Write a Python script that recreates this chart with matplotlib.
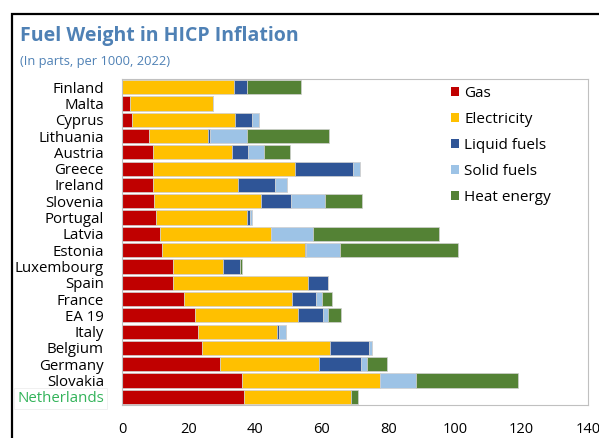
import matplotlib
matplotlib.use('Agg')
import matplotlib.pyplot as plt
from matplotlib.patches import Patch, Rectangle
import numpy as np

plt.rcParams['font.family'] = ['Open Sans', 'DejaVu Sans']

# データ (parts per 1000, 2022)
countries = ['Finland', 'Malta', 'Cyprus', 'Lithuania', 'Austria', 'Greece', 'Ireland',
             'Slovenia', 'Portugal', 'Latvia', 'Estonia', 'Luxembourg', 'Spain', 'France',
             'EA 19', 'Italy', 'Belgium', 'Germany', 'Slovakia', 'Netherlands']
gas = [0, 2.3, 3.0, 8.2, 9.4, 9.4, 9.4, 9.6, 10.1, 11.4, 12.1, 15.2, 15.3, 18.6,
       21.9, 22.7, 23.9, 29.3, 36.0, 36.8]
electricity = [33.7, 25.1, 30.8, 17.7, 23.5, 42.6, 25.3, 32.2, 27.4, 33.4, 42.8, 15.0,
               40.5, 32.4, 31.1, 23.9, 38.6, 29.9, 41.5, 32.0]
liquid = [3.8, 0, 5.3, 0.6, 5.0, 17.5, 11.2, 9.1, 1.1, 0, 0.3, 5.2, 6.1, 7.4, 7.3,
          0.7, 11.8, 12.6, 0, 0]
solid = [0, 0, 2.0, 11.2, 4.7, 2.0, 3.7, 10.0, 0.5, 12.6, 10.3, 0, 0, 1.7, 1.6, 2.1,
         0.9, 1.7, 10.7, 0]
heat = [16.4, 0, 0, 24.5, 8.0, 0, 0, 11.2, 0, 37.7, 35.3, 0.7, 0, 3.0, 3.8, 0, 0,
        6.0, 30.7, 2.1]

series = [('Gas', gas, '#c00000'),
          ('Electricity', electricity, '#ffc000'),
          ('Liquid fuels', liquid, '#2f5597'),
          ('Solid fuels', solid, '#9dc3e6'),
          ('Heat energy', heat, '#548235')]

fig = plt.figure(figsize=(5.99, 4.38), dpi=100)
ax = fig.add_axes([122 / 599, 1 - 405 / 438, 466 / 599, 326 / 438])

y = np.arange(len(countries))
left = np.zeros(len(countries))
for name, vals, col in series:
    vals = np.array(vals)
    ax.barh(y, vals, left=left, height=0.87, color=col, edgecolor='#d0d0d0',
            linewidth=0.5, label=name)
    left += vals

ax.set_xlim(0, 140)
ax.set_ylim(19.5, -0.5)
ax.set_xticks(range(0, 141, 20))
ax.set_yticks(y)
ax.set_yticklabels(countries, fontsize=10.8)
ax.tick_params(axis='both', length=0)
ax.tick_params(axis='x', labelsize=10.5, pad=12)
ax.tick_params(axis='y', pad=13)
for s in ax.spines.values():
    s.set_color('#c0c0c0')
    s.set_linewidth(0.8)

# Netherlands は緑
lab = ax.get_yticklabels()[-1]
lab.set_color('#33b35a')
lab.set_bbox(dict(facecolor='white', edgecolor='#eeeeee', linewidth=0.6, pad=2))

handles = [Patch(facecolor=c, edgecolor='none', label=n) for n, v, c in series]
ax.legend(handles=handles, loc='upper left', bbox_to_anchor=(0.705, 0.978), frameon=False,
          fontsize=11, handlelength=0.55, handleheight=0.55, handletextpad=0.35,
          labelspacing=0.72, borderpad=0, borderaxespad=0)

fig.text(20 / 599, 1 - 41 / 438, 'Fuel Weight in HICP Inflation', fontsize=14,
         fontweight='bold', color='#4f81b5', va='baseline')
fig.text(20 / 599, 1 - 65 / 438, '(In parts, per 1000, 2022)', fontsize=9.3,
         color='#4f81b5', va='baseline')

# 外枠
fig.add_artist(Rectangle((12 / 599, -0.1), 1.2, 0.1 + 1 - 14 / 438,
                         transform=fig.transFigure, fill=False, edgecolor='black',
                         linewidth=1.6))

fig.savefig('out.png', dpi=100)
